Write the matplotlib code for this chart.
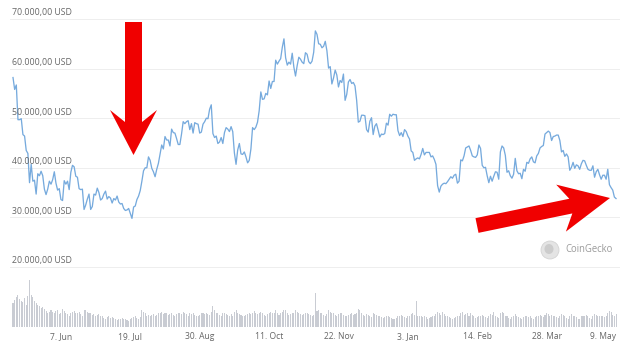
import numpy as np
import pandas as pd
import matplotlib
matplotlib.use("Agg")
import matplotlib.pyplot as plt
import matplotlib.dates as mdates
from matplotlib.patches import Polygon, Ellipse

plt.rcParams['font.family'] = ['Open Sans', 'DejaVu Sans']

# daily BTC price in thousand USD, 9 May 2021 .. 9 May 2022
price_may21 = [58.2, 55.8, 56.7, 49.7, 49.7, 49.9, 46.7, 46.4, 43.5, 42.9, 37.0, 40.7, 37.3, 37.5,
               34.7, 38.8, 38.4, 39.3, 38.4, 35.7, 34.6, 35.7, 37.3]
price_jun21 = [36.7, 37.6, 39.2, 36.9, 35.5, 35.8, 33.6, 33.4, 37.4, 36.7, 37.3, 35.6, 39.1, 40.5, 40.2,
               38.3, 38.1, 35.8, 35.6, 35.7, 31.6, 32.5, 33.7, 34.7, 31.6, 32.2, 34.7, 34.5, 35.9, 35.0]
price_jul21 = [33.5, 33.8, 34.7, 35.3, 33.7, 34.2, 33.9, 32.9, 33.8, 33.5, 34.3, 33.1, 32.7, 32.8, 31.8,
               31.4, 31.5, 31.8, 30.8, 29.8, 32.1, 32.3, 33.6, 34.3, 35.4, 37.3, 39.4, 40.0, 40.0, 42.2, 41.5]
price_aug21 = [39.9, 39.2, 38.2, 39.7, 40.9, 42.8, 44.6, 43.8, 46.3, 45.6, 45.6, 44.4, 47.8, 47.1, 47.0,
               45.9, 44.7, 44.7, 46.8, 49.3, 48.9, 49.3, 49.5, 47.7, 48.9, 47.0, 49.1, 48.9, 48.8, 47.0, 47.2]
price_sep21 = [48.8, 49.3, 50.0, 49.9, 51.8, 52.7, 46.9, 46.1, 46.4, 44.9, 45.2, 46.1, 44.9, 47.1, 48.1,
               47.8, 47.3, 48.3, 47.3, 43.0, 40.7, 43.6, 44.9, 42.8, 42.7, 43.2, 42.2, 41.0, 41.5, 43.8]
price_oct21 = [48.1, 47.7, 48.2, 49.2, 51.5, 55.3, 53.8, 53.9, 55.0, 54.7, 57.5, 56.0, 57.4, 57.4, 61.7,
               60.9, 61.5, 62.0, 64.3, 66.0, 62.2, 60.7, 61.3, 60.9, 63.1, 60.3, 58.5, 60.6, 62.3, 61.9, 61.3]
price_nov21 = [61.0, 63.2, 62.9, 61.4, 61.0, 61.5, 63.3, 67.6, 66.9, 65.0, 64.9, 64.2, 64.5, 65.5, 63.6,
               60.1, 60.4, 56.9, 58.1, 59.7, 58.7, 56.3, 57.6, 57.2, 58.9, 53.6, 54.8, 57.3, 57.8, 57.0]
price_dec21 = [57.2, 56.5, 53.6, 49.2, 49.4, 50.6, 50.6, 50.5, 47.7, 47.2, 49.4, 50.1, 46.7, 48.4, 48.9,
               47.6, 46.2, 46.8, 46.7, 46.9, 49.0, 48.6, 50.8, 50.4, 50.8, 50.7, 50.7, 47.5, 46.5, 47.1, 46.3]
price_jan22 = [47.7, 47.3, 46.4, 45.8, 43.4, 43.1, 41.5, 41.8, 42.0, 41.8, 42.7, 43.9, 42.6, 43.1, 43.1,
               43.1, 42.2, 42.4, 41.7, 40.7, 36.4, 35.1, 36.3, 36.7, 36.9, 36.8, 37.2, 37.7, 38.2, 37.9, 38.5]
price_feb22 = [38.7, 36.9, 37.3, 41.6, 41.4, 42.4, 44.0, 44.2, 44.4, 43.5, 42.4, 42.2, 42.1, 42.6, 44.6,
               43.9, 40.5, 40.0, 40.1, 38.4, 37.0, 38.3, 37.3, 38.3, 39.2, 39.1, 37.7, 43.2]
price_mar22 = [44.4, 44.0, 42.5, 39.1, 39.4, 38.4, 37.9, 38.7, 41.9, 39.4, 38.8, 38.9, 37.8, 39.7, 39.3,
               41.1, 40.9, 41.8, 42.2, 41.2, 41.0, 42.4, 42.9, 44.0, 44.3, 44.5, 46.8, 47.1, 47.4, 47.1, 45.5]
price_apr22 = [46.3, 46.4, 46.6, 46.6, 45.5, 43.2, 43.5, 42.3, 42.8, 42.2, 39.5, 40.1, 41.1, 39.9, 40.6,
               40.4, 39.7, 40.8, 41.5, 41.4, 40.5, 39.7, 39.5, 39.5, 40.4, 38.1, 39.2, 39.7, 38.6, 37.7]
price_may22 = [38.5, 38.5, 37.7, 39.7, 36.6, 36.0, 35.5, 34.1, 33.8]

# daily volume in billion USD
vol_may21 = [64, 72, 80, 86, 75, 70, 66, 77, 58, 82, 128, 84, 80, 70, 64, 58, 56, 50, 52, 48, 42, 38, 40]
vol_jun21 = [44, 40, 38, 42, 46, 34, 36, 48, 42, 38, 34, 30, 36, 40, 42, 36, 38, 40, 34, 30,
             44, 46, 40, 36, 38, 32, 34, 30, 32, 34]
vol_jul21 = [30, 28, 24, 22, 26, 28, 24, 26, 24, 22, 18, 20, 22, 24, 22, 20, 18, 16, 20, 24,
             26, 28, 24, 22, 26, 44, 40, 36, 30, 32, 30]
vol_aug21 = [32, 34, 30, 32, 36, 38, 40, 34, 38, 36, 32, 34, 38, 32, 30, 34, 36, 38, 34, 40,
             36, 34, 30, 36, 34, 38, 32, 30, 28, 32, 36]
vol_sep21 = [38, 34, 36, 34, 32, 40, 55, 46, 38, 36, 32, 30, 36, 38, 34, 32, 30, 34, 28, 40,
             44, 38, 34, 32, 30, 28, 32, 34, 36, 34]
vol_oct21 = [38, 42, 36, 34, 38, 40, 36, 32, 30, 34, 36, 40, 38, 36, 44, 38, 32, 36, 40, 44,
             46, 38, 32, 34, 36, 38, 44, 40, 36, 34, 32]
vol_nov21 = [34, 38, 36, 34, 32, 30, 32, 90, 42, 46, 38, 36, 32, 30, 34, 44, 40, 38, 36, 32,
             30, 34, 38, 36, 32, 30, 28, 32, 34, 36]
vol_dec21 = [32, 34, 38, 49, 44, 36, 32, 30, 34, 32, 28, 26, 36, 34, 32, 30, 28, 26, 24, 26,
             30, 28, 26, 24, 22, 20, 24, 28, 30, 32, 28]
vol_jan22 = [26, 24, 28, 30, 34, 36, 32, 70, 30, 28, 30, 26, 28, 26, 22, 24, 26, 28, 30, 34,
             40, 36, 32, 40, 34, 30, 28, 26, 24, 22, 24]
vol_feb22 = [26, 28, 30, 36, 40, 32, 34, 38, 30, 36, 32, 28, 24, 26, 30, 28, 32, 30, 26, 24,
             30, 34, 32, 40, 30, 26, 24, 36]
vol_mar22 = [40, 36, 30, 28, 24, 22, 26, 28, 34, 30, 26, 24, 22, 26, 28, 30, 26, 28, 24, 22,
             26, 28, 30, 32, 28, 26, 32, 36, 34, 30, 32]
vol_apr22 = [30, 28, 26, 24, 30, 34, 32, 28, 24, 22, 30, 34, 30, 28, 26, 22, 20, 28, 30, 28,
             32, 30, 24, 22, 28, 34, 32, 30, 28, 30]
vol_may22 = [28, 26, 30, 36, 42, 40, 32, 30, 34]

price = np.array(price_may21 + price_jun21 + price_jul21 + price_aug21 + price_sep21 + price_oct21
                 + price_nov21 + price_dec21 + price_jan22 + price_feb22 + price_mar22 + price_apr22
                 + price_may22) * 1000
volume = np.array(vol_may21 + vol_jun21 + vol_jul21 + vol_aug21 + vol_sep21 + vol_oct21 + vol_nov21
                  + vol_dec21 + vol_jan22 + vol_feb22 + vol_mar22 + vol_apr22 + vol_may22)
dates = pd.date_range("2021-05-09", "2022-05-09", freq="D")

y_ticks = [20000, 30000, 40000, 50000, 60000, 70000]
y_labels = ["20.000,00 USD", "30.000,00 USD", "40.000,00 USD", "50.000,00 USD",
            "60.000,00 USD", "70.000,00 USD"]
x_ticks = pd.to_datetime(["2021-06-07", "2021-07-19", "2021-08-30", "2021-10-11", "2021-11-22",
                          "2022-01-03", "2022-02-14", "2022-03-28", "2022-05-09"])
x_labels = ["7. Jun", "19. Jul", "30. Aug", "11. Oct", "22. Nov", "3. Jan", "14. Feb", "28. Mar", "9. May"]

W, H = 630, 352
fig = plt.figure(figsize=(W / 72, H / 72), dpi=72)

t0 = mdates.date2num(dates[0])
xlim = (t0 - 1.82, t0 + 367.4)

# price panel
ax = fig.add_axes([10 / W, 0, 610 / W, 1])
ax.set_xlim(xlim)
ax.set_ylim(2863, 73831)
for v, lab in zip(y_ticks, y_labels):
    ax.axhline(v, color='#eeeeee', lw=1, zorder=0)
    ax.text(2 / 610, v + 1250, lab, transform=ax.get_yaxis_transform(), fontsize=8.8,
            color='#666666', va='center', ha='left')
ax.plot(dates, price, color='#76aadd', lw=1.3, zorder=2)
ax.axis('off')

# volume panel
vax = fig.add_axes([10 / W, 25 / H, 610 / W, 47 / H])
vax.bar(dates, volume, width=0.62, color='#c9ccd3', linewidth=0)
vax.set_xlim(xlim)
vax.set_ylim(0, 125)
for s in vax.spines.values():
    s.set_visible(False)
vax.set_yticks([])
vax.set_xticks(x_ticks)
vax.set_xticklabels(x_labels, fontsize=8.5, color='#666666')
vax.tick_params(axis='x', length=0, pad=5)
vax.get_xticklabels()[-1].set_ha('right')


# red arrows, drawn in pixel space of the figure
def arrow(tail, tip, shaft_w, head_w, head_len, sweep):
    tail = np.array(tail, float)
    tip = np.array(tip, float)
    u = (tip - tail) / np.linalg.norm(tip - tail)
    n = np.array([-u[1], u[0]])
    wing = tip - u * head_len
    join = tip - u * (head_len - sweep)
    pts = [tail + n * shaft_w / 2, join + n * shaft_w / 2, wing + n * head_w / 2, tip,
           wing - n * head_w / 2, join - n * shaft_w / 2, tail - n * shaft_w / 2]
    pts = [(p[0] / W, 1 - p[1] / H) for p in pts]
    fig.patches.append(Polygon(pts, closed=True, transform=fig.transFigure,
                               facecolor='#f00000', edgecolor='none', zorder=5))


arrow((133.5, 22), (133.5, 155), 17, 47, 45, 12)
arrow((477, 225.5), (610, 198), 15, 48, 50, 10)

# CoinGecko watermark
fig.patches.append(Ellipse((550 / W, 1 - 250 / H), 18 / W, 18 / H, transform=fig.transFigure,
                           facecolor='#e4e4e4', edgecolor='#d2d2d2', lw=0.8))
fig.patches.append(Ellipse((549 / W, 1 - 249 / H), 9 / W, 10 / H, transform=fig.transFigure,
                           facecolor='#cccccc', edgecolor='none'))
fig.text(565 / W, 1 - 250 / H, "CoinGecko", fontsize=9.5, color='#9a9a9a', va='center', ha='left')

fig.savefig("out.png", dpi=72, facecolor='white')
